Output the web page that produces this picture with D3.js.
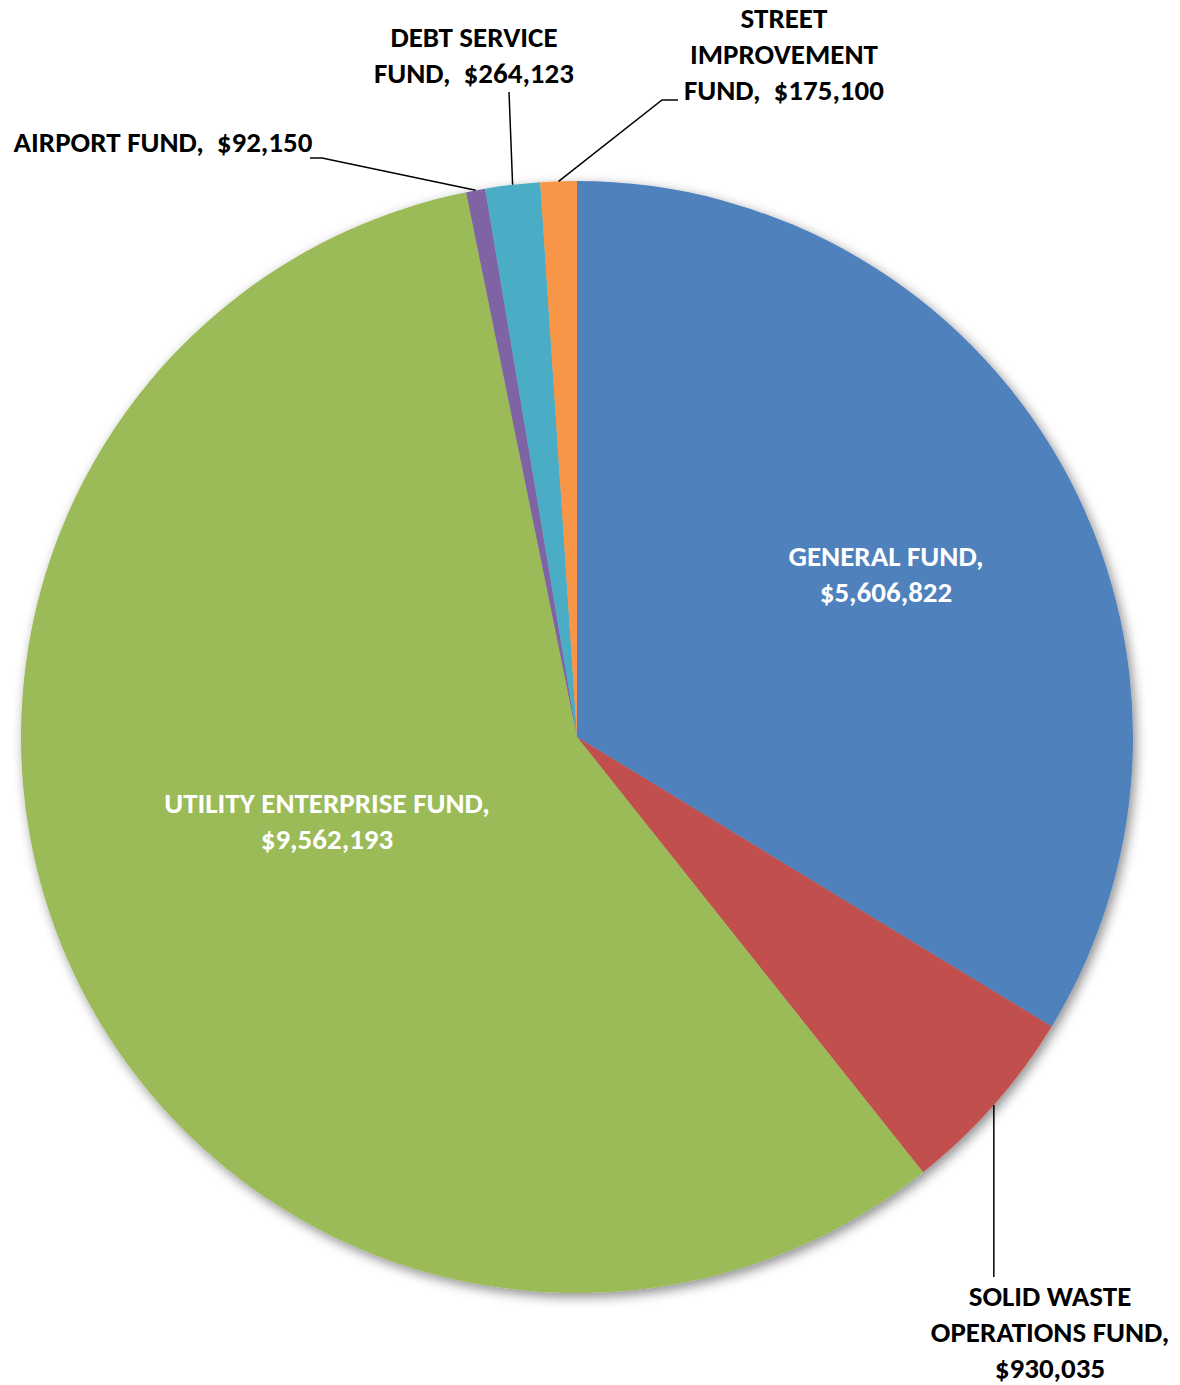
<!DOCTYPE html>
<html>
<head>
<meta charset="utf-8">
<script src="https://cdn.jsdelivr.net/npm/d3@7"></script>
<style>
  html, body { margin: 0; padding: 0; background: #fff; }
  svg { display: block; }
  text { font-family: Carlito, Calibri, Lato, "Open Sans", sans-serif; font-weight: 700; white-space: pre; }
</style>
</head>
<body>
<svg id="chart" width="1180" height="1385"></svg>
<script>
// Fund budget amounts, drawn clockwise from 12 o'clock
const funds   = ["GENERAL FUND", "SOLID WASTE OPERATIONS FUND", "UTILITY ENTERPRISE FUND",
                 "AIRPORT FUND", "DEBT SERVICE FUND", "STREET IMPROVEMENT FUND"];
const amounts = [5606822, 930035, 9562193, 92150, 264123, 175100];
const colors  = ["#4F81BD", "#C0504D", "#9BBB59", "#8064A2", "#4BACC6", "#F79646"];
// words per text line for each label (the value is the final token)
const lineWords = [[2, 1], [2, 2, 1], [3, 1], [3], [2, 2], [1, 1, 2]];

// layout
const cx = 577, cy = 737, R = 556;
const lineH = 36;
const fontSize = 29;
// label block centres and leader-line bends (outside labels only)
const labelLayout = [
  { inside: true,  x: 886,  y: 575 },
  { inside: false, x: 1050, y: 1333, path: (p) => [p, [p[0], 1277]] },
  { inside: true,  x: 327,  y: 822 },
  { inside: false, x: 163,  y: 143, path: (p) => [p, [322, 158], [310, 158]] },
  { inside: false, x: 474,  y: 56,  path: (p) => [p, [509, 92]] },
  { inside: false, x: 784,  y: 55,  path: (p) => [p, [662, 100], [678, 100]] }
];

const svg = d3.select("#chart");
const defs = svg.append("defs");
const shadow = defs.append("filter").attr("id", "pieShadow")
  .attr("x", "-10%").attr("y", "-10%").attr("width", "120%").attr("height", "120%");
shadow.append("feDropShadow")
  .attr("dx", 3).attr("dy", 4).attr("stdDeviation", 6)
  .attr("flood-color", "#000").attr("flood-opacity", 0.45);

const data = funds.map((f, i) => ({ fund: f, value: amounts[i], color: colors[i], i }));

const pie = d3.pie().value(d => d.value).sort(null);
const arcs = pie(data);
const arc = d3.arc().innerRadius(0).outerRadius(R);

const g = svg.append("g").attr("transform", `translate(${cx},${cy})`);
g.append("g").attr("filter", "url(#pieShadow)")
  .selectAll("path").data(arcs).join("path")
  .attr("d", arc)
  .attr("fill", d => d.data.color);

const money = d3.format("$,");
function labelLines(d) {
  const tokens = d.fund.split(" ");
  tokens[tokens.length - 1] += ",";
  tokens.push(money(d.value));
  const out = [];
  let k = 0;
  lineWords[d.i].forEach(n => {
    const part = tokens.slice(k, k + n);
    k += n;
    let s = part[0];
    for (let j = 1; j < part.length; j++) {
      s += (part[j].startsWith("$") ? "  " : " ") + part[j];
    }
    out.push(s);
  });
  return out;
}

// leader lines from the slice edge at its mid angle
const lineGen = d3.line();
arcs.forEach(a => {
  const L = labelLayout[a.index];
  if (L.inside) return;
  const mid = (a.startAngle + a.endAngle) / 2;
  const p = [cx + R * Math.sin(mid), cy - R * Math.cos(mid)];
  svg.append("path")
    .attr("d", lineGen(L.path(p)))
    .attr("fill", "none")
    .attr("stroke", "#000")
    .attr("stroke-width", 1.5);
});

// labels
arcs.forEach(a => {
  const L = labelLayout[a.index];
  const lines = labelLines(a.data);
  const capH = fontSize * 0.64;
  const blockH = (lines.length - 1) * lineH + capH;
  const firstBase = L.y - blockH / 2 + capH;
  const t = svg.append("text")
    .attr("text-anchor", "middle")
    .attr("font-size", fontSize)
    .attr("fill", L.inside ? "#fff" : "#000");
  lines.forEach((s, j) => {
    t.append("tspan").attr("x", L.x).attr("y", firstBase + j * lineH).text(s);
  });
});
</script>
</body>
</html>
